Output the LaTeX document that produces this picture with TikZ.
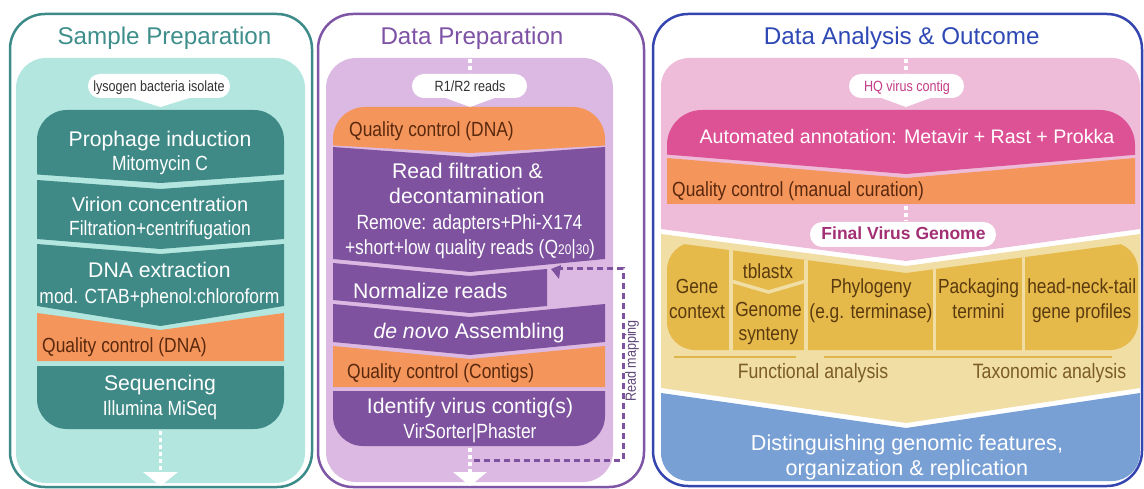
\documentclass[tikz,border=0pt]{standalone}
\usepackage{fontspec}
\setmainfont{Liberation Sans}
\newfontfamily\nf[FakeStretch=0.85]{Liberation Sans}
\usetikzlibrary{arrows.meta,calc}
\definecolor{tealB}{RGB}{61,139,136}
\definecolor{tealT}{RGB}{62,143,140}
\definecolor{tealL}{RGB}{179,230,223}
\definecolor{tealD}{RGB}{63,138,135}
\definecolor{orng}{RGB}{244,150,92}
\definecolor{qctxt}{RGB}{90,40,12}
\definecolor{purB}{RGB}{127,85,165}
\definecolor{purT}{RGB}{126,82,165}
\definecolor{purL}{RGB}{219,185,226}
\definecolor{purD}{RGB}{126,82,159}
\definecolor{rmT}{RGB}{95,70,120}
\definecolor{bluB}{RGB}{52,69,176}
\definecolor{bluT}{RGB}{46,72,181}
\definecolor{pinkL}{RGB}{238,187,217}
\definecolor{mag}{RGB}{221,81,149}
\definecolor{magT}{RGB}{197,59,134}
\definecolor{fvgT}{RGB}{163,48,116}
\definecolor{tanF}{RGB}{241,222,165}
\definecolor{goldF}{RGB}{229,186,75}
\definecolor{goldT}{RGB}{90,58,14}
\definecolor{anaT}{RGB}{122,92,36}
\definecolor{anaL}{RGB}{224,181,74}
\definecolor{bluF}{RGB}{121,160,213}
\definecolor{pillT}{RGB}{50,50,50}
\tikzset{
  panel/.style={line width=2.5pt, rounded corners=35},
  ttl/.style={inner sep=0pt, anchor=base, font=\fontsize{24.2}{24.2}\selectfont},
  big/.style={inner sep=0pt, anchor=base, text=white, font=\fontsize{21.2}{21.2}\selectfont},
  sub/.style={inner sep=0pt, anchor=base, text=white, font=\nf\fontsize{20.5}{20.5}\selectfont},
  qc/.style={inner sep=0pt, anchor=base west, text=qctxt, font=\nf\fontsize{20.5}{20.5}\selectfont},
  pilltxt/.style={inner sep=0pt, anchor=base, text=pillT, font=\nf\fontsize{14.8}{14.8}\selectfont},
  goldtxt/.style={inner sep=0pt, anchor=base, text=goldT, font=\nf\fontsize{20.4}{20.4}\selectfont},
  anatxt/.style={inner sep=0pt, anchor=base, text=anaT, font=\nf\fontsize{20.8}{20.8}\selectfont},
  wdots/.style={white, line width=3.5pt, dash pattern=on 4pt off 3pt},
  sep/.style={tanF, line width=3.5pt},
  analine/.style={anaL, line width=2.2pt},
}
\begin{document}
\begin{tikzpicture}[x=1pt,y=-1pt]
\useasboundingbox (0,0) rectangle (1144,489);
\fill[white] (0,0) rectangle (1144,489);

% ================= Panel 1 =================
\draw[panel, tealB] (10,14) rectangle (312,487);
\fill[tealL, rounded corners=30] (16,58) rectangle (305,483);
\fill[white, rounded corners=11.9] (88,74) rectangle (230,98);
\fill[white] (125,96) -- (160.5,107) -- (196,96) -- cycle;
\begin{scope}
  \clip (30,100) -- (290,100) -- (290,174) -- (160.5,183) -- (30,174) -- cycle;
  \fill[tealD, rounded corners=30] (37,110) rectangle (284,200);
\end{scope}
\fill[tealD] (37,180) -- (160.5,189) -- (284,180) -- (284,239) -- (160.5,249) -- (37,239) -- cycle;
\fill[tealD] (37,244) -- (160.5,254) -- (284,244) -- (284,306) -- (160.5,326) -- (37,306) -- cycle;
\fill[orng] (37,313) -- (160.5,330) -- (284,313) -- (284,361) -- (37,361) -- cycle;
\begin{scope}
  \clip (30,366) rectangle (290,440);
  \fill[tealD, rounded corners=30] (37,340) rectangle (284,429);
\end{scope}
\coordinate (a1s) at (160.5,431);
\coordinate (a1e) at (160.5,472);
\draw[wdots] (a1s) -- (a1e);
\fill[white] (143,472) -- (178,472) -- (160.5,486) -- cycle;

\node[ttl, text=tealT] (t1) at (164.5,45) {Sample Preparation};
\node[pilltxt] (lys) at (159,91.7) {lysogen bacteria isolate};
\node[big] (pi) at (160,146.7) {Prophage induction};
\node[sub] (mc) at (160,171) {Mitomycin C};
\node[big, font=\fontsize{20}{20}\selectfont] (vc) at (160,212) {Virion concentration};
\node[sub] (fc) at (160,236) {Filtration+centrifugation};
\node[big] (dex) at (159.5,277.3) {DNA extraction};
\node[sub] (ctab) at (159.5,303.3) {mod. CTAB+phenol:chloroform};
\node[qc] (qc1) at (42,352.7) {Quality control (DNA)};
\node[big] (seq) at (160,390) {Sequencing};
\node[sub] (ill) at (160,415) {Illumina MiSeq};

% ================= Panel 2 =================
\draw[panel, purB] (318,14) rectangle (644,487);
\fill[purL, rounded corners=30] (326,58) rectangle (613,482);
\coordinate (b0s) at (470,59);
\coordinate (b0e) at (470,73);
\draw[wdots] (b0s) -- (b0e);
\fill[white, rounded corners=11.9] (412,74) rectangle (527,98);
\fill[white] (440,96) -- (470,107) -- (500,96) -- cycle;
\begin{scope}
  \clip (325,100) -- (615,100) -- (615,145) -- (470,153) -- (325,145) -- cycle;
  \fill[orng, rounded corners=32] (333,107) rectangle (605,200);
\end{scope}
\fill[purD] (333,147) -- (470,157) -- (605,147) -- (605,259) -- (470,272) -- (333,259) -- cycle;
\fill[purD] (333,263) -- (470,276) -- (547,269) -- (547,306) -- (470,313) -- (333,300) -- cycle;
\fill[purD] (333,304) -- (470,317) -- (605,304) -- (605,342) -- (470,355) -- (333,342) -- cycle;
\fill[orng] (333,346) -- (470,359) -- (605,346) -- (605,387) -- (333,387) -- cycle;
\begin{scope}
  \clip (325,391) rectangle (615,460);
  \fill[purD, rounded corners=30] (333,360) rectangle (605,446);
\end{scope}
\coordinate (b1s) at (470,448);
\coordinate (b1e) at (470,472);
\draw[wdots] (b1s) -- (b1e);
\fill[white] (453,472) -- (487,472) -- (470,486) -- cycle;
% read mapping loop
\coordinate (rmA) at (474,460);
\coordinate (rmB) at (551,269);
\draw[purD, line width=3pt, dash pattern=on 6pt off 4pt] (rmA) -- (623,460) |- ($(rmB)+(7,0)$);
\fill[purD] (rmB) -- (561,265) -- (559,279) -- cycle;

\node[ttl, text=purT] (t2) at (472,45) {Data Preparation};
\node[pilltxt] (r12) at (470,91.7) {R1/R2 reads};
\node[qc] (qc2) at (349,136.7) {Quality control (DNA)};
\node[big] (rf) at (467.5,178.3) {Read filtration \&};
\node[big] (dc) at (467,203.3) {decontamination};
\node[sub] (rmv) at (469.5,230) {Remove: adapters+Phi-X174};
\node[sub] (sh) at (470,255) {+short+low quality reads (Q{\fontsize{14}{14}\selectfont 20}|{\fontsize{14}{14}\selectfont 30})};
\node[big, anchor=base west] (nr) at (353,298.3) {Normalize reads};
\node[big] (dn) at (469,338.3) {\textit{de novo} Assembling};
\node[qc] (qc3) at (347,378.3) {Quality control (Contigs)};
\node[big] (iv) at (470,413.3) {Identify virus contig(s)};
\node[sub] (vs) at (470,438.3) {VirSorter|Phaster};
\node[inner sep=0pt, text=rmT, font=\nf\fontsize{14.8}{14.8}\selectfont, rotate=90] (rmap) at (632,361) {Read mapping};

% ================= Panel 3 =================
\draw[panel, bluB] (653,14) rectangle (1142,486);
\begin{scope}
  \clip[rounded corners=28] (661,58) rectangle (1140,481);
  \fill[pinkL] (650,50) -- (1150,50) -- (1150,229) -- (1140,229) -- (906,261) -- (661,229) -- (650,229) -- cycle;
  \fill[tanF] (650,234) -- (661,234) -- (906,266) -- (1140,234) -- (1150,234) -- (1150,388) -- (1140,388) -- (906,423) -- (661,388) -- (650,388) -- cycle;
  \fill[bluF] (650,393) -- (661,393) -- (906,428) -- (1140,393) -- (1150,393) -- (1150,490) -- (650,490) -- cycle;
\end{scope}
\coordinate (c0s) at (906,59);
\coordinate (c0e) at (906,73);
\draw[wdots] (c0s) -- (c0e);
\fill[white, rounded corners=11.9] (849,74) rectangle (964,98);
\fill[white] (876,96) -- (906,107) -- (936,96) -- cycle;
\begin{scope}
  \clip (660,100) -- (1145,100) -- (1145,154) -- (906,174) -- (660,154) -- cycle;
  \fill[mag, rounded corners=35] (667,110) rectangle (1135,200);
\end{scope}
\fill[orng] (667,158) -- (906,178) -- (1135,158) -- (1135,204) -- (667,204) -- cycle;
\coordinate (c1s) at (906,206);
\coordinate (c1e) at (906,221);
\draw[wdots] (c1s) -- (c1e);
\fill[white, rounded corners=12.4] (810,222) rectangle (996,247);
\begin{scope}
  \clip (660,241) -- (906,273) -- (1145,241) -- (1145,360) -- (660,360) -- cycle;
  \fill[goldF, rounded corners=28] (667,242) rectangle (1138,350);
  \draw[sep] (731,230) -- (731,352);
  \draw[sep] (806,230) -- (806,352);
  \draw[sep] (934.5,230) -- (934.5,352);
  \draw[sep] (1023.5,230) -- (1023.5,352);
  \draw[sep] (731,281) -- (768.5,292) -- (806,281);
\end{scope}
\draw[analine] (674,357) -- (796,357);
\draw[analine] (824,357) -- (1112,357);

\node[ttl, text=bluT] (t3) at (901.7,45) {Data Analysis \& Outcome};
\node[pilltxt, text=magT] (hq) at (907,91.7) {HQ virus contig};
\node[big, font=\fontsize{19.6}{19.6}\selectfont] (aa) at (907,143.3) {Automated annotation: Metavir + Rast + Prokka};
\node[qc] (qc4) at (672,196.7) {Quality control (manual curation)};
\node[inner sep=0pt, anchor=base, text=fvgT, font=\bfseries\fontsize{17.5}{17.5}\selectfont] (fvg) at (903.5,240) {Final Virus Genome};
\node[goldtxt] (gc1) at (697,293.3) {Gene};
\node[goldtxt] (gc2) at (697,318.3) {context};
\node[goldtxt] (tb) at (768,278.3) {tblastx};
\node[goldtxt] (gs1) at (768.5,316.7) {Genome};
\node[goldtxt] (gs2) at (768.5,340) {synteny};
\node[goldtxt] (ph1) at (871,293.3) {Phylogeny};
\node[goldtxt] (ph2) at (871,318.3) {(e.g. terminase)};
\node[goldtxt] (pk1) at (978.5,293.3) {Packaging};
\node[goldtxt] (pk2) at (978.5,318.3) {termini};
\node[goldtxt] (hn1) at (1081.7,293.3) {head-neck-tail};
\node[goldtxt] (hn2) at (1081.7,318.3) {gene profiles};
\node[anatxt] (fa) at (813,378.3) {Functional analysis};
\node[anatxt] (ta) at (1049.5,378.3) {Taxonomic analysis};
\node[big, font=\fontsize{21.6}{21.6}\selectfont] (dg1) at (907,450) {Distinguishing genomic features,};
\node[big, font=\fontsize{21.6}{21.6}\selectfont] (dg2) at (907,475) {organization \& replication};
\end{tikzpicture}
\end{document}
